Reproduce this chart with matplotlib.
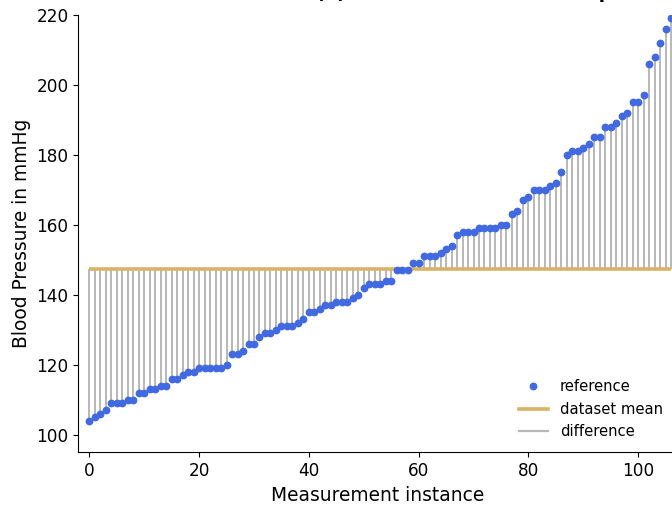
import matplotlib
matplotlib.use("Agg")
import matplotlib.pyplot as plt
from matplotlib.lines import Line2D

# Sorted reference blood pressure readings (mmHg), one per measurement instance
reference = [
    104, 105, 106, 107, 109, 109, 109, 110, 110, 112,
    112, 113, 113, 114, 114, 116, 116, 117, 118, 118,
    119, 119, 119, 119, 119, 120, 123, 123, 124, 126,
    126, 128, 129, 129, 130, 131, 131, 131, 132, 133,
    135, 135, 136, 137, 137, 138, 138, 138, 139, 140,
    142, 143, 143, 143, 144, 144, 147, 147, 147, 149,
    149, 151, 151, 151, 152, 153, 154, 157, 158, 158,
    158, 159, 159, 159, 159, 160, 160, 163, 164, 167,
    168, 170, 170, 170, 171, 172, 175, 180, 181, 181,
    182, 183, 185, 185, 188, 188, 189, 191, 192, 195,
    195, 197, 206, 208, 212, 216, 219,
]
instances = list(range(len(reference)))
dataset_mean = 147.4

y_ticks = [100, 120, 140, 160, 180, 200, 220]
x_ticks = [0, 20, 40, 60, 80, 100]

c_ref = "#4169e1"
c_mean = "#d8b466"
c_diff = "#b8b8b8"

W, H = 672, 505
fig = plt.figure(figsize=(W / 100, H / 100), dpi=100)
ax = fig.add_axes([78.4 / W, (H - 452.3) / H, (676 - 78.4) / W, (452.3 - 15) / H])

ax.vlines(instances, dataset_mean, reference, colors=c_diff, linewidth=1.4, zorder=1)
ax.hlines(dataset_mean, instances[0], instances[-1], colors=c_mean, linewidth=2.6, zorder=2)
ax.plot(instances, reference, "o", color=c_ref, markersize=4.6, linestyle="none", zorder=3)

ax.set_xlim(-2, 106.9)
ax.set_ylim(95, 220)
ax.set_xticks(x_ticks)
ax.set_yticks(y_ticks)
ax.tick_params(labelsize=12.2)
ax.spines["top"].set_visible(False)
ax.spines["right"].set_visible(False)
ax.set_xlabel("Measurement instance", fontsize=13.4)
ax.set_ylabel("Blood Pressure in mmHg", fontsize=13.4)

handles = [
    Line2D([], [], marker="o", color=c_ref, linestyle="none", markersize=4.6),
    Line2D([], [], color=c_mean, linewidth=2.6),
    Line2D([], [], color=c_diff, linewidth=1.6),
]
ax.legend(handles, ["reference", "dataset mean", "difference"],
          loc="lower right", frameon=False, fontsize=10.6)

fig.text(316 / W, 1 + 2.0 / H, "(a) Reference values and spread",
         fontsize=13.5, fontweight="bold", ha="left", va="baseline")

fig.savefig("out.png", dpi=100)
